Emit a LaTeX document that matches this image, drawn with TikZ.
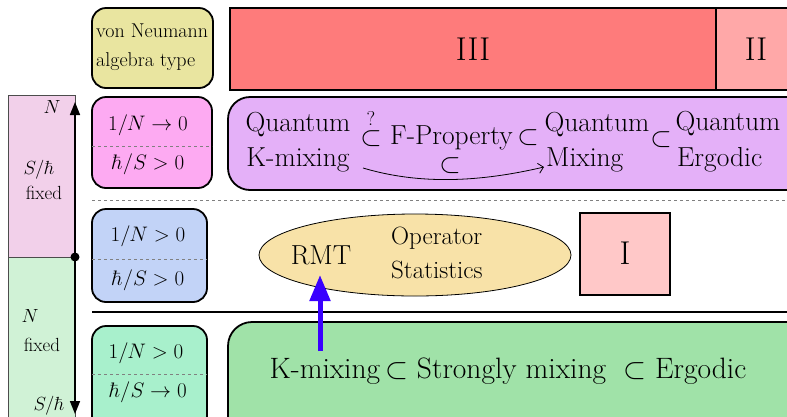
\RequirePackage{fix-cm}
\documentclass[tikz,border=0pt]{standalone}
\usetikzlibrary{arrows.meta,shapes.geometric}
\definecolor{cvn}{HTML}{E9E5A0}
\definecolor{cpinkbox}{HTML}{FDAAF2}
\definecolor{cbluebox}{HTML}{C2D3F7}
\definecolor{cgreenbox}{HTML}{A8F0CC}
\definecolor{cleftpink}{HTML}{F2D0EA}
\definecolor{cleftgreen}{HTML}{D0F2D6}
\definecolor{cthree}{HTML}{FE7B7B}
\definecolor{ctwo}{HTML}{FFA8A8}
\definecolor{cpurple}{HTML}{E4B0F8}
\definecolor{cell}{HTML}{F8E2A8}
\definecolor{cone}{HTML}{FFC8C8}
\definecolor{cbottom}{HTML}{A0E2A8}
\definecolor{carrow}{HTML}{3A00FF}
\tikzset{
  lbox/.style={draw=black,line width=1.8pt,rounded corners=14pt},
  sep/.style={draw=gray,dashed,line width=0.7pt},
  big/.style={font=\fontsize{27.5}{35}\selectfont},
  mid/.style={font=\fontsize{25}{34}\selectfont},
  small/.style={font=\fontsize{21}{26}\selectfont},
  tiny/.style={font=\fontsize{19}{22}\selectfont},
  roman/.style={font=\fontsize{33}{36}\selectfont},
}
\begin{document}
\begin{tikzpicture}[x=1pt,y=-1pt]
\useasboundingbox (0,0) rectangle (787,416);
\clip (0,0) rectangle (787,416);
% left column
\draw[fill=cleftpink,draw=black!70,line width=0.6pt] (8,95) rectangle (75,257);
\draw[fill=cleftgreen,draw=black!70,line width=0.6pt] (8,257) rectangle (75,430);
\coordinate (mid) at (75,257);
\coordinate (topN) at (75,102);
\coordinate (botS) at (75,414);
\draw[line width=1.6pt,-{Triangle[length=13pt,width=10pt]}] (mid) -- (topN);
\draw[line width=1.6pt,-{Triangle[length=13pt,width=10pt]}] (mid) -- (botS);
\fill (mid) circle (4.5pt);
\node[tiny] (lN) at (52,107) {$N$};
\node[tiny] (lS1) at (39,170) {$S/\hbar$};
\node[tiny] (lfix1) at (44,193) {fixed};
\node[tiny] (lN2) at (30,316) {$N$};
\node[tiny] (lfix2) at (42,345) {fixed};
\node[tiny] (lS2) at (49,406) {$S/\hbar$};
% separators
\draw[sep] (92,200) -- (787,200);
\draw[black,line width=1.8pt] (92,312) -- (787,312);
% left boxes
\draw[lbox,fill=cvn] (92,8) rectangle (213,88);
\node[font=\fontsize{20}{29}\selectfont,align=left,inner sep=0pt,anchor=west] (vn) at (96,47) {von Neumann\\algebra type};
\draw[lbox,fill=cpinkbox] (92,97) rectangle (212,188);
\draw[sep] (92,146) -- (212,146);
\node[small,inner sep=0pt] (p1) at (148,125) {$1/N\to 0$};
\node[small,inner sep=0pt] (p2) at (148,164) {$\hbar/S>0$};
\draw[lbox,fill=cbluebox] (92,209) rectangle (207,302);
\draw[sep] (92,259) -- (207,259);
\node[small,inner sep=0pt] (b1) at (148,236) {$1/N>0$};
\node[small,inner sep=0pt] (b2) at (148,280) {$\hbar/S>0$};
\draw[lbox,fill=cgreenbox] (92,326) rectangle (207,430);
\draw[sep] (92,374) -- (207,374);
\node[small,inner sep=0pt] (g1) at (146,353) {$1/N>0$};
\node[small,inner sep=0pt] (g2) at (148,392) {$\hbar/S\to 0$};
% algebra types
\draw[fill=cthree,line width=1.8pt] (230,8) rectangle (716,90);
\node[roman] (t3) at (473,49) {III};
\draw[fill=ctwo,line width=1.8pt] (716,8) rectangle (800,90);
\node[roman] (t2) at (756,49) {II};
% purple region
\draw[lbox,rounded corners=22pt,fill=cpurple] (228,97) rectangle (830,190);
\node[big] (qk1) at (298,125) {Quantum};
\node[big] (qk2) at (298,160) {K-mixing};
\node[font=\fontsize{20}{20}\selectfont] (q) at (371,118) {?};
\node[big] (sub1) at (371,139) {$\subset$};
\node[big,anchor=west,inner sep=0pt] (fp) at (390,138) {F-Property$\,\subset$};
\node[big] (qm1) at (597,125) {Quantum};
\node[big,anchor=west,inner sep=0pt] (qm2) at (546,160) {Mixing};
\node[big] (sub3) at (661,140) {$\subset$};
\node[big] (qe1) at (728,124) {Quantum};
\node[big,anchor=west,inner sep=0pt] (qe2) at (677,160) {Ergodic};
\coordinate (ca) at (363,168);
\coordinate (cb) at (544,167);
\draw[line width=0.8pt,-{Straight Barb[length=5pt]}] (ca) .. controls (420,185) and (480,182) .. (cb);
\node[big] (sub4) at (450,166) {$\subset$};
% middle
\node[ellipse,draw=black,line width=0.8pt,fill=cell,minimum width=312pt,minimum height=82pt] (ell) at (415,255) {};
\node[big] (rmt) at (321,255) {RMT};
\node[mid,align=left,anchor=west,inner sep=0pt] (ops) at (391,253) {Operator\\Statistics};
\draw[fill=cone,line width=1.8pt] (580,213) rectangle (670,295);
\node[roman] (t1) at (625,253) {I};
% bottom
\draw[lbox,rounded corners=24pt,fill=cbottom] (228,322) rectangle (830,440);
\node[font=\fontsize{29.5}{30}\selectfont] (bot) at (508,371) {K-mixing$\,\subset$ Strongly mixing $\;\subset$ Ergodic};
\coordinate (ba) at (320,351);
\coordinate (bt) at (320,275);
\draw[carrow,line width=5pt,-{Triangle[length=26pt,width=20pt]}] (ba) -- (bt);
\end{tikzpicture}
\end{document}
